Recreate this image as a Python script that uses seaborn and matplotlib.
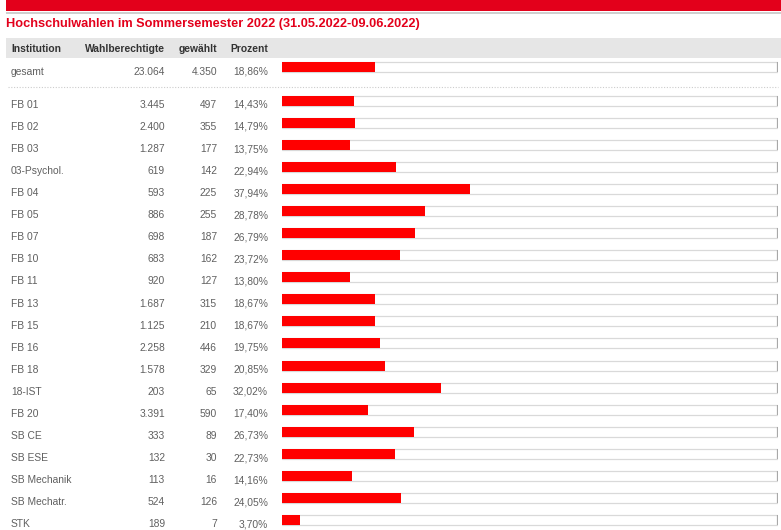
import matplotlib
matplotlib.use("Agg")
import matplotlib.pyplot as plt
import matplotlib.transforms as mtransforms
from matplotlib.patches import Rectangle
from matplotlib.lines import Line2D
import seaborn as sns
import pandas as pd

# ---------------- data ----------------
title = "Hochschulwahlen im Sommersemester 2022 (31.05.2022-09.06.2022)"
headers = ["Institution", "Wahlberechtigte", "gewählt", "Prozent"]

total_label = "gesamt"
total_eligible = 23064
total_voted = 4350
total_percent = 18.86

institutions = ["FB 01", "FB 02", "FB 03", "03-Psychol.", "FB 04", "FB 05", "FB 07",
                "FB 10", "FB 11", "FB 13", "FB 15", "FB 16", "FB 18", "18-IST",
                "FB 20", "SB CE", "SB ESE", "SB Mechanik", "SB Mechatr.", "STK"]
eligible = [3445, 2400, 1287, 619, 593, 886, 698, 683, 920, 1687, 1125, 2258, 1578,
            203, 3391, 333, 132, 113, 524, 189]
voted = [497, 355, 177, 142, 225, 255, 187, 162, 127, 315, 210, 446, 329, 65, 590,
         89, 30, 16, 126, 7]
percent = [14.43, 14.79, 13.75, 22.94, 37.94, 28.78, 26.79, 23.72, 13.80, 18.67,
           18.67, 19.75, 20.85, 32.02, 17.40, 26.73, 22.73, 14.16, 24.05, 3.70]

# ---------------- style ----------------
W, H = 781, 530
RED = "#e3001b"
BAR_RED = "#ff0000"
TXT = "#606060"
HDR = "#333333"
FS = 7.4
sns.set_theme(style="white")
plt.rcParams["font.family"] = ["Liberation Sans", "DejaVu Sans"]

fig = plt.figure(figsize=(W / 100, H / 100), dpi=100)
fig.patch.set_facecolor("white")


def fx(px):
    return px / W


def fy(py):
    return 1 - py / H


# top band + grey rule
fig.patches.append(Rectangle((fx(6), fy(11)), fx(W - 6), 11 / H, transform=fig.transFigure,
                             facecolor=RED, edgecolor="none"))
fig.patches.append(Rectangle((fx(6), fy(14)), fx(W - 6), 2 / H, transform=fig.transFigure,
                             facecolor="#cfcfcf", edgecolor="none"))
# title
fig.text(fx(6.5), fy(27.3), title, color=RED, fontsize=9.2, fontweight="bold",
         va="baseline", ha="left")
# header background
fig.patches.append(Rectangle((fx(6), fy(58.3)), fx(W - 6), (58.3 - 37.7) / H,
                             transform=fig.transFigure, facecolor="#e6e6e6", edgecolor="none"))
col_x = [11, 165, 217, 268]
col_ha = ["left", "right", "right", "right"]
for h, x, ha in zip(headers, col_x, col_ha):
    fig.text(fx(x), fy(52.3), h, color=HDR, fontsize=FS, fontweight="bold",
             va="baseline", ha=ha)

# dotted separator
fig.lines.append(Line2D([fx(8), fx(778)], [fy(87.3), fy(87.3)], transform=fig.transFigure,
                        color="#cccccc", lw=0.8, linestyle=(0, (1, 1.5))))

ROW = 22.07
BAR_W = 10 / ROW
X0, X1 = 282, 777.5


def de_int(v):
    return f"{v:,}".replace(",", ".")


def de_pct(p):
    return f"{p:.2f}".replace(".", ",") + "%"


def draw_rows(ax, labels, elig, vot, pct):
    n = len(labels)
    df = pd.DataFrame({"inst": labels, "pct": pct, "full": [100] * n})
    sns.barplot(data=df, x="full", y="inst", orient="h", color="white", saturation=1,
                edgecolor="#d9d9d9", linewidth=0.9, width=BAR_W, ax=ax)
    sns.barplot(data=df, x="pct", y="inst", orient="h", color=BAR_RED, saturation=1,
                edgecolor="none", width=BAR_W, ax=ax)
    idx = list(range(n))
    ax.vlines([100] * n, [i - BAR_W / 2 for i in idx], [i + BAR_W / 2 for i in idx],
              color="#a8a8a8", lw=1.6)
    ax.set_xlim(0, 100)
    ax.set_ylim(n - 0.5, -0.5)
    ax.axis("off")
    tr = mtransforms.blended_transform_factory(fig.transFigure, ax.transData)
    for i in idx:
        vals = [labels[i], de_int(elig[i]), de_int(vot[i]), de_pct(pct[i])]
        for v, x, ha in zip(vals, col_x, col_ha):
            ax.text(fx(x), i + 7.2 / ROW, v, transform=tr, color=TXT, fontsize=FS,
                    ha=ha, va="baseline", clip_on=False)


# total row axes
c0 = 67.3
ax_t = fig.add_axes([fx(X0), fy(c0 + ROW / 2), fx(X1 - X0), ROW / H])
draw_rows(ax_t, [total_label], [total_eligible], [total_voted], [total_percent])

# main rows axes
c1 = 100.7
n = len(institutions)
top = c1 - ROW / 2
bottom = top + n * ROW
ax_m = fig.add_axes([fx(X0), fy(bottom), fx(X1 - X0), n * ROW / H])
draw_rows(ax_m, institutions, eligible, voted, percent)

fig.savefig("out.png", dpi=100, facecolor="white")
